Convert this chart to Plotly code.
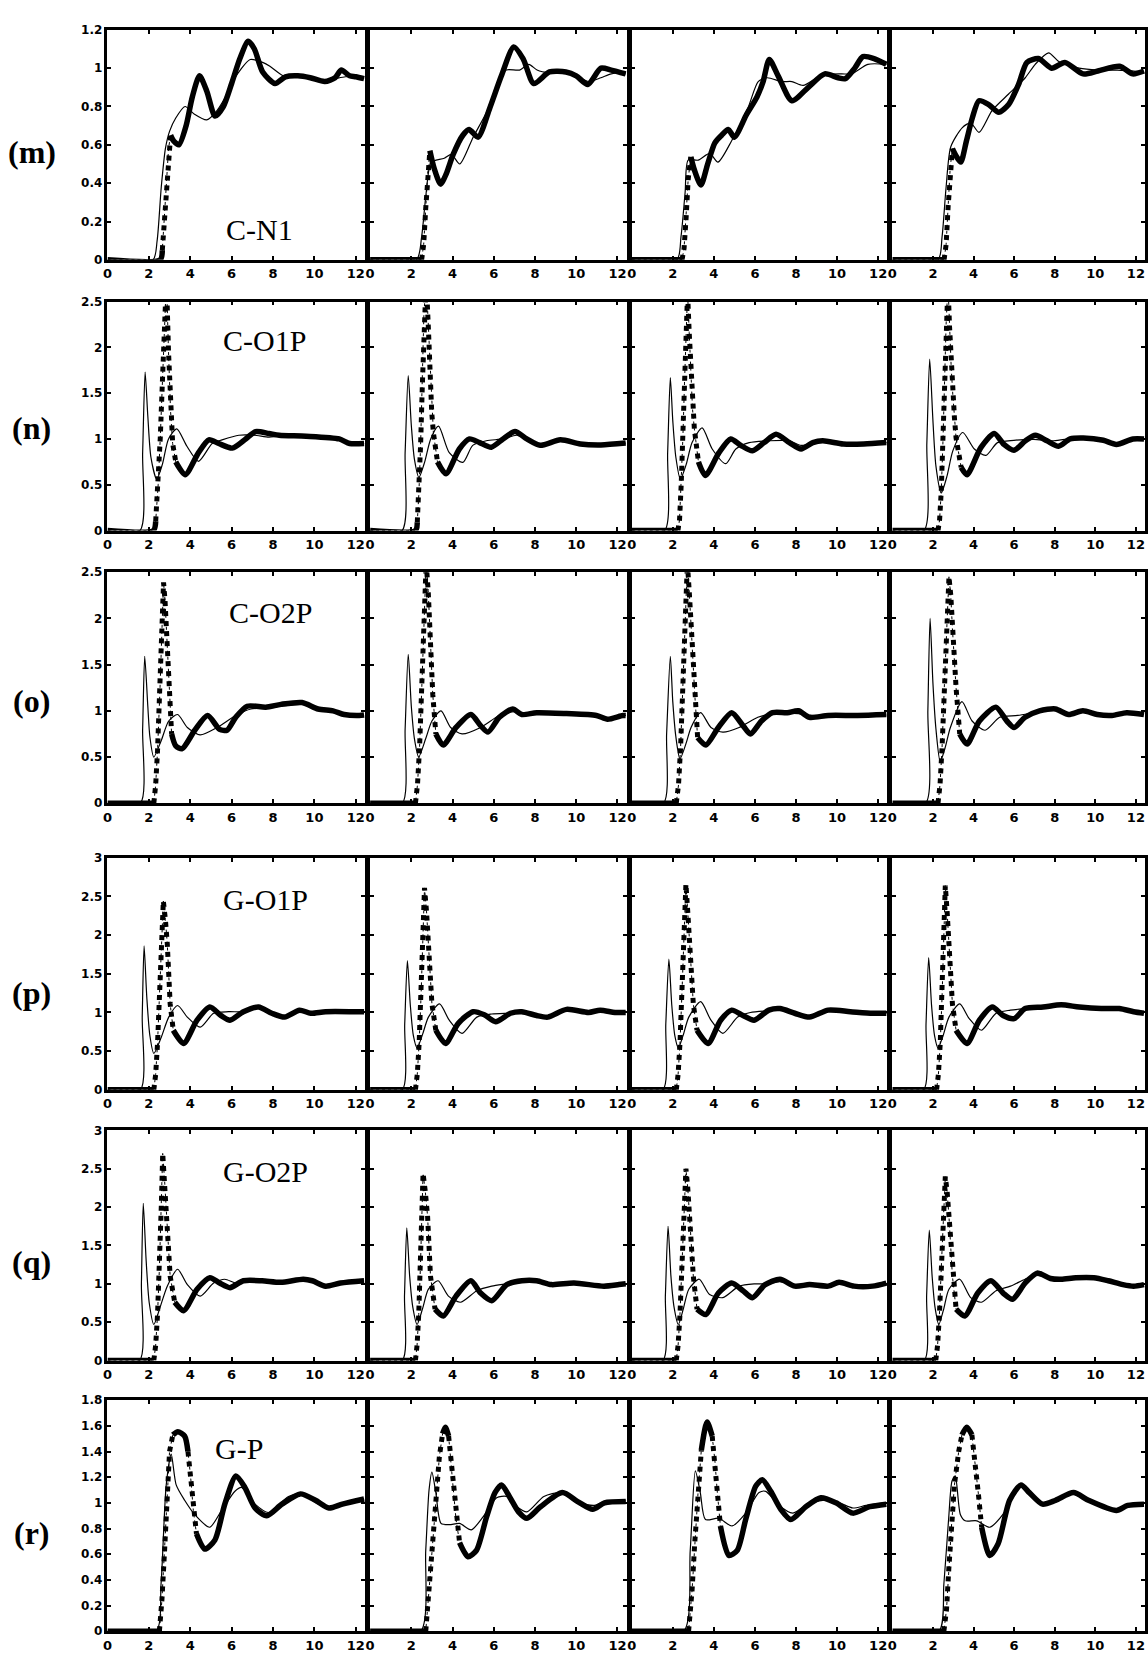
import plotly.graph_objects as go

# ---------------------------------------------------------------- data
# r (Angstrom) and g(r) readings for every panel; "a" = thin curve, "b" = bold curve
X_TICKS = [0, 2, 4, 6, 8, 10, 12]
X_TEXT = ["0", "2", "4", "6", "8", "10", "12"]
X_MAX = 12.45

ROW_TAGS = ["(m)", "(n)", "(o)", "(p)", "(q)", "(r)"]
PAIR_NAMES = ["C-N1", "C-O1P", "C-O2P", "G-O1P", "G-O2P", "G-P"]
Y_MAX = [1.2, 2.5, 2.5, 3.0, 3.0, 1.8]

y_ticks_m = [0, 0.2, 0.4, 0.6, 0.8, 1.0, 1.2]
y_text_m = ["0", "0.2", "0.4", "0.6", "0.8", "1", "1.2"]
y_ticks_no = [0, 0.5, 1.0, 1.5, 2.0, 2.5]
y_text_no = ["0", "0.5", "1", "1.5", "2", "2.5"]
y_ticks_pq = [0, 0.5, 1.0, 1.5, 2.0, 2.5, 3.0]
y_text_pq = ["0", "0.5", "1", "1.5", "2", "2.5", "3"]
y_ticks_r = [0, 0.2, 0.4, 0.6, 0.8, 1.0, 1.2, 1.4, 1.6, 1.8]
y_text_r = ["0", "0.2", "0.4", "0.6", "0.8", "1", "1.2", "1.4", "1.6", "1.8"]

# --- row m : C-N1
m1_a_r = [0, 2.2, 2.4, 2.6, 2.8, 3.0, 3.3, 3.75, 4.2, 4.8, 5.3, 5.8, 6.1, 6.9, 7.5, 7.85, 8.5, 9.0, 10.0, 10.5, 11.0, 11.5, 12.0, 12.4]
m1_a_g = [0, 0, 0.1, 0.38, 0.58, 0.67, 0.74, 0.8, 0.76, 0.73, 0.78, 0.87, 0.94, 1.045, 1.03, 1.01, 0.96, 0.955, 0.95, 0.935, 0.945, 0.955, 0.955, 0.945]
m1_b_r = [0, 2.55, 2.65, 2.75, 2.85, 2.95, 3.05, 3.2, 3.45, 3.8, 4.1, 4.45, 4.8, 5.2, 5.6, 6.0, 6.4, 6.8, 7.1, 7.5, 8.1, 8.6, 9.2, 9.8, 10.5, 11.0, 11.3, 11.7, 12.0, 12.4]
m1_b_g = [0, 0, 0.05, 0.2, 0.4, 0.58, 0.65, 0.62, 0.6, 0.7, 0.85, 0.96, 0.88, 0.75, 0.8, 0.92, 1.05, 1.14, 1.1, 0.98, 0.92, 0.955, 0.96, 0.95, 0.93, 0.95, 0.99, 0.96, 0.955, 0.945]

m2_a_r = [0, 2.25, 2.5, 2.7, 2.95, 3.2, 3.6, 3.95, 4.35, 5.0, 5.65, 6.3, 6.6, 7.25, 7.7, 8.1, 8.7, 9.5, 10.0, 10.6, 11.2, 11.7, 12.4]
m2_a_g = [0, 0, 0.12, 0.33, 0.51, 0.52, 0.53, 0.55, 0.5, 0.64, 0.77, 0.94, 0.99, 0.99, 1.02, 0.99, 0.975, 0.975, 0.96, 0.93, 0.95, 0.97, 0.98]
m2_b_r = [0, 2.5, 2.6, 2.7, 2.8, 2.9, 3.1, 3.42, 3.7, 4.03, 4.5, 4.8, 5.24, 5.8, 6.37, 6.97, 7.42, 7.94, 8.7, 9.5, 10.0, 10.56, 11.2, 11.7, 12.4]
m2_b_g = [0, 0, 0.08, 0.27, 0.46, 0.57, 0.48, 0.395, 0.45, 0.55, 0.65, 0.68, 0.64, 0.79, 0.96, 1.11, 1.05, 0.92, 0.98, 0.98, 0.96, 0.915, 1.0, 0.99, 0.97]

m3_a_r = [0, 2.2, 2.4, 2.6, 2.75, 3.24, 3.8, 4.2, 4.86, 5.67, 6.16, 6.6, 7.3, 7.8, 8.35, 9.2, 10.2, 10.7, 11.5, 12.4]
m3_a_g = [0, 0, 0.12, 0.35, 0.52, 0.52, 0.555, 0.51, 0.62, 0.795, 0.93, 0.95, 0.93, 0.93, 0.91, 0.96, 0.97, 0.97, 1.02, 1.02]
m3_b_r = [0, 2.45, 2.55, 2.65, 2.75, 2.88, 3.05, 3.37, 3.7, 4.05, 4.38, 4.7, 5.0, 5.6, 6.1, 6.4, 6.7, 7.13, 7.8, 8.6, 9.4, 10.05, 10.4, 10.86, 11.26, 11.8, 12.4]
m3_b_g = [0, 0, 0.06, 0.22, 0.42, 0.537, 0.47, 0.39, 0.5, 0.61, 0.65, 0.68, 0.64, 0.76, 0.85, 0.93, 1.045, 0.96, 0.83, 0.9, 0.97, 0.95, 0.945, 1.0, 1.06, 1.05, 1.02]

m4_a_r = [0, 2.25, 2.45, 2.65, 2.88, 3.45, 3.86, 4.27, 4.92, 5.73, 6.55, 7.04, 7.7, 8.2, 9.2, 10.13, 11.1, 11.9, 12.4]
m4_a_g = [0, 0, 0.12, 0.38, 0.59, 0.69, 0.715, 0.665, 0.78, 0.865, 0.95, 1.02, 1.08, 1.035, 1.0, 0.99, 0.99, 0.985, 0.98]
m4_b_r = [0, 2.55, 2.65, 2.75, 2.85, 2.96, 3.15, 3.37, 3.65, 3.94, 4.27, 4.75, 5.24, 5.73, 6.22, 6.63, 7.2, 7.85, 8.5, 9.4, 10.13, 11.2, 11.84, 12.4]
m4_b_g = [0, 0, 0.08, 0.28, 0.48, 0.58, 0.54, 0.51, 0.62, 0.74, 0.83, 0.81, 0.77, 0.81, 0.915, 1.03, 1.05, 1.0, 1.03, 0.97, 0.985, 1.01, 0.97, 0.985]

# --- row n : C-O1P
n1_a_r = [0, 1.57, 1.7, 1.82, 1.95, 2.1, 2.38, 2.65, 2.95, 3.35, 3.84, 4.4, 5.06, 5.54, 6.35, 7.1, 7.8, 8.3, 9.6, 11.2, 11.7, 12.4]
n1_a_g = [0, 0, 0.85, 1.73, 1.25, 0.8, 0.56, 0.72, 1.0, 1.11, 0.92, 0.755, 0.95, 0.99, 1.04, 1.04, 1.02, 1.03, 1.02, 0.99, 0.95, 0.95]
n1_b_r = [0, 2.22, 2.33, 2.45, 2.55, 2.65, 2.75, 2.85, 2.95, 3.05, 3.15, 3.3, 3.76, 4.4, 4.9, 5.38, 6.03, 6.68, 7.16, 7.8, 8.3, 9.6, 11.2, 11.7, 12.4]
n1_b_g = [0, 0, 0.1, 0.5, 1.0, 1.6, 2.25, 2.75, 1.95, 1.3, 0.95, 0.75, 0.61, 0.85, 0.99, 0.95, 0.9, 1.0, 1.08, 1.06, 1.04, 1.03, 1.0, 0.95, 0.95]

n2_a_r = [0, 1.55, 1.7, 1.85, 2.0, 2.15, 2.37, 2.65, 2.94, 3.32, 3.84, 4.5, 4.98, 5.64, 6.45, 7.1, 7.6, 8.25, 9.23, 10.2, 11.2, 12.4]
n2_a_g = [0, 0, 0.85, 1.69, 1.15, 0.78, 0.58, 0.75, 1.0, 1.14, 0.85, 0.745, 0.93, 0.98, 1.0, 1.04, 1.0, 0.95, 0.99, 0.95, 0.94, 0.955]
n2_b_r = [0, 2.2, 2.29, 2.37, 2.45, 2.53, 2.61, 2.72, 2.83, 2.89, 2.99, 3.07, 3.27, 3.68, 4.33, 4.82, 5.31, 5.88, 6.45, 7.03, 7.6, 8.25, 9.23, 10.2, 11.2, 12.4]
n2_b_g = [0, 0, 0.09, 0.42, 0.93, 1.55, 2.35, 2.75, 2.2, 1.8, 1.29, 1.07, 0.75, 0.62, 0.89, 1.0, 0.96, 0.91, 1.0, 1.08, 1.0, 0.93, 0.99, 0.945, 0.935, 0.955]

n3_a_r = [0, 1.6, 1.75, 1.88, 2.0, 2.15, 2.37, 2.65, 2.94, 3.43, 3.92, 4.58, 5.07, 5.72, 6.7, 7.68, 8.25, 9.3, 10.3, 11.3, 12.4]
n3_a_g = [0, 0, 0.85, 1.67, 1.2, 0.8, 0.56, 0.72, 0.96, 1.12, 0.89, 0.73, 0.89, 0.96, 0.98, 0.98, 0.93, 0.98, 0.95, 0.945, 0.96]
n3_b_r = [0, 2.25, 2.33, 2.41, 2.49, 2.57, 2.65, 2.72, 2.8, 2.88, 2.96, 3.05, 3.25, 3.59, 4.25, 4.82, 5.31, 5.88, 6.45, 7.03, 7.68, 8.25, 8.82, 9.3, 10.3, 11.3, 12.4]
n3_b_g = [0, 0, 0.12, 0.5, 1.0, 1.6, 2.3, 2.6, 2.16, 1.76, 1.33, 1.11, 0.75, 0.6, 0.85, 1.0, 0.93, 0.87, 0.96, 1.05, 0.96, 0.89, 0.96, 0.98, 0.945, 0.945, 0.96]

n4_a_r = [0, 1.56, 1.7, 1.84, 2.0, 2.15, 2.41, 2.7, 2.98, 3.47, 4.04, 4.61, 5.18, 5.99, 6.97, 7.95, 9.09, 10.4, 11.04, 11.86, 12.4]
n4_a_g = [0, 0, 0.95, 1.87, 1.2, 0.7, 0.41, 0.6, 0.87, 1.07, 0.89, 0.82, 0.96, 0.985, 0.996, 0.98, 1.01, 0.985, 0.95, 0.995, 1.0]
n4_b_r = [0, 2.25, 2.33, 2.41, 2.49, 2.57, 2.65, 2.74, 2.82, 2.9, 2.98, 3.06, 3.14, 3.39, 3.68, 4.36, 5.02, 5.5, 5.99, 6.56, 7.05, 7.62, 8.19, 8.76, 9.41, 10.4, 11.04, 11.86, 12.4]
n4_b_g = [0, 0, 0.12, 0.43, 0.94, 1.7, 2.25, 2.7, 2.22, 1.78, 1.48, 1.23, 1.01, 0.69, 0.61, 0.905, 1.06, 0.94, 0.876, 0.98, 1.04, 0.98, 0.92, 1.0, 1.01, 0.985, 0.94, 1.0, 1.0]

# --- row o : C-O2P
o1_a_r = [0, 1.59, 1.7, 1.8, 1.95, 2.05, 2.24, 2.6, 2.96, 3.39, 3.86, 4.48, 5.3, 6.2, 6.93, 7.65, 8.38, 9.4, 10.18, 10.9, 11.44, 12.17, 12.4]
o1_a_g = [0, 0, 0.8, 1.59, 1.05, 0.72, 0.5, 0.68, 0.89, 0.96, 0.82, 0.74, 0.82, 0.95, 1.02, 1.03, 1.05, 1.07, 1.02, 1.0, 0.96, 0.95, 0.95]
o1_b_r = [0, 2.24, 2.33, 2.42, 2.53, 2.64, 2.71, 2.78, 2.85, 2.96, 3.1, 3.3, 3.61, 4.22, 4.84, 5.42, 5.78, 6.2, 6.75, 7.65, 8.38, 9.4, 10.18, 10.9, 11.44, 12.17, 12.4]
o1_b_g = [0, 0, 0.2, 0.57, 1.18, 1.89, 2.39, 2.2, 1.89, 1.25, 0.75, 0.62, 0.59, 0.79, 0.95, 0.8, 0.79, 0.93, 1.05, 1.04, 1.07, 1.09, 1.02, 1.0, 0.96, 0.95, 0.955]

o2_a_r = [0, 1.56, 1.7, 1.85, 2.0, 2.15, 2.36, 2.7, 3.0, 3.44, 3.91, 4.46, 5.36, 6.27, 7.0, 7.36, 8.08, 9.53, 10.98, 11.52, 12.25, 12.4]
o2_a_g = [0, 0, 0.8, 1.61, 1.05, 0.7, 0.5, 0.7, 0.89, 1.0, 0.82, 0.75, 0.82, 0.95, 0.99, 0.97, 0.975, 0.965, 0.95, 0.92, 0.945, 0.95]
o2_b_r = [0, 2.2, 2.3, 2.4, 2.5, 2.6, 2.72, 2.82, 2.9, 3.04, 3.19, 3.55, 4.17, 4.89, 5.36, 5.72, 6.27, 6.92, 7.36, 8.08, 9.53, 10.98, 11.52, 12.25, 12.4]
o2_b_g = [0, 0, 0.2, 0.6, 1.2, 1.9, 2.6, 2.3, 1.89, 1.18, 0.75, 0.63, 0.82, 0.96, 0.84, 0.77, 0.93, 1.02, 0.96, 0.98, 0.97, 0.95, 0.91, 0.95, 0.95]

o3_a_r = [0, 1.55, 1.7, 1.88, 2.0, 2.15, 2.35, 2.65, 2.89, 3.36, 3.86, 4.44, 5.23, 6.14, 6.86, 7.58, 8.12, 8.66, 9.57, 11.0, 12.4]
o3_a_g = [0, 0, 0.75, 1.59, 1.1, 0.72, 0.48, 0.65, 0.82, 0.98, 0.82, 0.77, 0.82, 0.93, 0.97, 0.975, 0.97, 0.95, 0.95, 0.945, 0.955]
o3_b_r = [0, 2.17, 2.28, 2.38, 2.48, 2.58, 2.71, 2.8, 2.89, 3.07, 3.21, 3.61, 4.22, 4.87, 5.42, 5.78, 6.32, 6.86, 7.58, 8.12, 8.66, 9.57, 11.0, 12.4]
o3_b_g = [0, 0, 0.2, 0.6, 1.2, 1.9, 2.6, 2.3, 1.89, 1.18, 0.71, 0.63, 0.82, 0.98, 0.84, 0.75, 0.89, 0.98, 0.98, 1.0, 0.93, 0.95, 0.95, 0.96]

o4_a_r = [0, 1.64, 1.75, 1.86, 2.0, 2.15, 2.36, 2.6, 2.86, 3.43, 3.93, 4.57, 5.29, 6.18, 7.25, 8.04, 8.68, 9.39, 10.1, 10.82, 11.54, 12.4]
o4_a_g = [0, 0, 1.0, 2.0, 1.3, 0.8, 0.45, 0.6, 0.82, 1.1, 0.89, 0.79, 0.93, 0.95, 0.99, 1.01, 0.96, 0.99, 0.96, 0.95, 0.975, 0.96]
o4_b_r = [0, 2.25, 2.35, 2.45, 2.55, 2.65, 2.79, 2.88, 2.96, 3.14, 3.32, 3.68, 4.29, 5.1, 5.64, 6.0, 6.54, 7.25, 8.04, 8.68, 9.39, 10.1, 10.82, 11.54, 12.4]
o4_b_g = [0, 0, 0.2, 0.6, 1.2, 1.8, 2.45, 2.25, 1.89, 1.25, 0.75, 0.64, 0.89, 1.04, 0.89, 0.82, 0.93, 1.0, 1.02, 0.96, 1.0, 0.96, 0.95, 0.98, 0.96]

# --- row p : G-O1P
p1_a_r = [0, 1.59, 1.68, 1.77, 1.9, 2.05, 2.24, 2.6, 2.96, 3.39, 3.86, 4.48, 5.13, 5.85, 6.57, 7.3, 7.94, 8.56, 9.28, 9.82, 10.54, 12.0, 12.4]
p1_a_g = [0, 0, 0.95, 1.86, 1.2, 0.7, 0.47, 0.68, 0.94, 1.09, 0.94, 0.81, 0.99, 1.01, 1.01, 1.06, 1.0, 0.96, 1.02, 0.99, 1.01, 1.01, 1.01]
p1_b_r = [0, 2.24, 2.33, 2.42, 2.51, 2.6, 2.7, 2.8, 2.89, 3.03, 3.18, 3.68, 4.33, 4.95, 5.49, 5.92, 6.57, 7.3, 7.94, 8.56, 9.28, 9.82, 10.54, 12.0, 12.4]
p1_b_g = [0, 0, 0.2, 0.6, 1.2, 1.85, 2.44, 2.2, 1.89, 1.11, 0.77, 0.6, 0.9, 1.07, 0.96, 0.9, 1.01, 1.07, 0.99, 0.94, 1.03, 0.99, 1.01, 1.01, 1.01]

p2_a_r = [0, 1.56, 1.68, 1.81, 1.95, 2.1, 2.28, 2.55, 2.83, 3.37, 3.84, 4.46, 5.18, 5.9, 6.81, 7.36, 8.08, 8.62, 9.53, 10.6, 11.16, 11.88, 12.4]
p2_a_g = [0, 0, 0.85, 1.67, 1.1, 0.7, 0.54, 0.72, 0.94, 1.11, 0.9, 0.73, 0.94, 0.98, 0.99, 1.0, 0.965, 0.95, 1.03, 1.0, 1.02, 1.0, 1.0]
p2_b_r = [0, 2.2, 2.29, 2.38, 2.47, 2.56, 2.64, 2.74, 2.83, 3.0, 3.19, 3.66, 4.28, 5.0, 5.54, 6.09, 6.81, 7.36, 8.08, 8.62, 9.53, 10.6, 11.16, 11.88, 12.4]
p2_b_g = [0, 0, 0.2, 0.6, 1.2, 1.9, 2.61, 2.3, 1.89, 1.11, 0.77, 0.6, 0.86, 1.01, 0.97, 0.88, 0.99, 1.01, 0.96, 0.94, 1.04, 1.0, 1.03, 1.0, 1.0]

p3_a_r = [0, 1.52, 1.66, 1.81, 1.95, 2.1, 2.27, 2.5, 2.78, 3.36, 3.86, 4.44, 5.16, 5.78, 6.68, 7.22, 7.94, 8.66, 9.57, 10.65, 11.73, 12.4]
p3_a_g = [0, 0, 0.85, 1.69, 1.1, 0.7, 0.54, 0.7, 0.94, 1.14, 0.9, 0.73, 0.94, 1.0, 1.02, 1.03, 0.99, 0.95, 1.02, 1.01, 0.99, 0.99]
p3_b_r = [0, 2.17, 2.26, 2.35, 2.44, 2.53, 2.64, 2.73, 2.82, 3.0, 3.18, 3.72, 4.33, 4.87, 5.42, 5.96, 6.68, 7.22, 7.94, 8.66, 9.57, 10.65, 11.73, 12.4]
p3_b_g = [0, 0, 0.2, 0.6, 1.2, 1.9, 2.66, 2.3, 1.89, 1.11, 0.77, 0.6, 0.9, 1.03, 0.96, 0.9, 1.03, 1.05, 0.99, 0.94, 1.03, 1.01, 0.99, 0.99]

p4_a_r = [0, 1.54, 1.66, 1.79, 1.93, 2.08, 2.25, 2.5, 2.79, 3.32, 3.79, 4.39, 5.11, 5.82, 6.54, 7.43, 8.32, 9.21, 10.29, 11.18, 11.89, 12.4]
p4_a_g = [0, 0, 0.85, 1.71, 1.1, 0.7, 0.54, 0.7, 0.94, 1.11, 0.92, 0.77, 0.99, 1.03, 1.05, 1.07, 1.1, 1.07, 1.05, 1.05, 1.01, 0.99]
p4_b_r = [0, 2.18, 2.27, 2.36, 2.45, 2.53, 2.61, 2.7, 2.79, 2.96, 3.14, 3.68, 4.29, 4.93, 5.46, 6.0, 6.54, 7.43, 8.32, 9.21, 10.29, 11.18, 11.89, 12.4]
p4_b_g = [0, 0, 0.2, 0.6, 1.2, 1.9, 2.64, 2.3, 1.89, 1.11, 0.77, 0.6, 0.9, 1.07, 0.96, 0.92, 1.05, 1.07, 1.1, 1.07, 1.05, 1.05, 1.01, 0.99]

# --- row q : G-O2P
q1_a_r = [0, 1.55, 1.64, 1.73, 1.87, 2.02, 2.24, 2.55, 2.89, 3.39, 3.86, 4.48, 5.13, 5.67, 6.2, 6.57, 7.47, 8.38, 9.46, 9.9, 10.54, 11.26, 12.4]
q1_a_g = [0, 0, 1.0, 2.05, 1.3, 0.75, 0.47, 0.7, 0.97, 1.19, 0.99, 0.84, 1.01, 1.06, 1.01, 1.03, 1.03, 1.02, 1.05, 1.04, 0.97, 1.01, 1.04]
q1_b_r = [0, 2.24, 2.33, 2.42, 2.51, 2.6, 2.67, 2.76, 2.85, 3.03, 3.25, 3.68, 4.33, 4.95, 5.42, 5.92, 6.57, 7.47, 8.38, 9.46, 9.9, 10.54, 11.26, 12.4]
q1_b_g = [0, 0, 0.2, 0.6, 1.2, 2.0, 2.7, 2.35, 1.88, 1.1, 0.76, 0.65, 0.93, 1.08, 1.01, 0.95, 1.04, 1.04, 1.02, 1.06, 1.04, 0.97, 1.01, 1.04]

q2_a_r = [0, 1.56, 1.67, 1.78, 1.92, 2.07, 2.28, 2.55, 2.83, 3.3, 3.8, 4.38, 5.18, 5.9, 6.63, 7.36, 8.08, 8.8, 9.89, 11.34, 12.07, 12.4]
q2_a_g = [0, 0, 0.85, 1.73, 1.1, 0.7, 0.47, 0.68, 0.93, 1.04, 0.84, 0.76, 0.91, 0.97, 1.0, 1.03, 1.03, 0.99, 1.0, 0.97, 0.99, 1.0]
q2_b_r = [0, 2.2, 2.28, 2.36, 2.44, 2.5, 2.57, 2.68, 2.79, 2.93, 3.15, 3.55, 4.17, 4.89, 5.36, 5.9, 6.63, 7.36, 8.08, 8.8, 9.89, 11.34, 12.07, 12.4]
q2_b_g = [0, 0, 0.2, 0.6, 1.2, 1.8, 2.44, 2.2, 1.88, 1.1, 0.67, 0.58, 0.84, 1.04, 0.88, 0.78, 0.99, 1.04, 1.04, 0.99, 1.01, 0.97, 0.99, 1.0]

q3_a_r = [0, 1.52, 1.64, 1.77, 1.91, 2.06, 2.27, 2.5, 2.78, 3.29, 3.79, 4.44, 5.23, 5.96, 6.68, 7.22, 7.94, 8.66, 9.57, 10.1, 10.83, 11.73, 12.4]
q3_a_g = [0, 0, 0.85, 1.75, 1.1, 0.7, 0.47, 0.66, 0.93, 1.06, 0.86, 0.82, 0.97, 1.0, 1.0, 1.03, 0.98, 0.99, 0.97, 1.0, 0.97, 0.97, 1.0]
q3_b_r = [0, 2.17, 2.26, 2.35, 2.44, 2.53, 2.64, 2.73, 2.82, 3.0, 3.18, 3.61, 4.22, 4.87, 5.42, 5.88, 6.5, 7.22, 7.94, 8.66, 9.57, 10.1, 10.83, 11.73, 12.4]
q3_b_g = [0, 0, 0.2, 0.6, 1.2, 1.85, 2.5, 2.25, 1.88, 1.1, 0.67, 0.6, 0.88, 1.01, 0.91, 0.82, 0.99, 1.06, 0.97, 0.99, 0.97, 1.02, 0.97, 0.97, 1.01]

q4_a_r = [0, 1.57, 1.69, 1.82, 1.96, 2.1, 2.29, 2.52, 2.79, 3.32, 3.86, 4.39, 5.11, 5.82, 6.54, 7.07, 7.61, 8.32, 9.04, 9.93, 10.64, 11.36, 11.89, 12.4]
q4_a_g = [0, 0, 0.85, 1.7, 1.1, 0.7, 0.47, 0.66, 0.93, 1.06, 0.82, 0.76, 0.91, 0.97, 1.06, 1.11, 1.09, 1.06, 1.08, 1.08, 1.04, 0.99, 0.97, 0.99]
q4_b_r = [0, 2.14, 2.23, 2.32, 2.41, 2.5, 2.61, 2.7, 2.79, 2.96, 3.14, 3.57, 4.21, 4.86, 5.46, 5.93, 6.54, 7.14, 7.79, 8.32, 9.04, 9.93, 10.64, 11.36, 11.89, 12.4]
q4_b_g = [0, 0, 0.2, 0.6, 1.2, 1.8, 2.4, 2.2, 1.88, 1.1, 0.67, 0.58, 0.88, 1.04, 0.88, 0.8, 1.01, 1.14, 1.07, 1.06, 1.08, 1.08, 1.04, 0.99, 0.97, 0.99]

# --- row r : G-P
r1_a_r = [0, 2.35, 2.59, 2.84, 3.08, 3.32, 3.73, 4.21, 4.94, 5.51, 6.16, 6.48, 7.13, 7.78, 8.75, 9.4, 10.21, 10.7, 11.35, 12.4]
r1_a_g = [0, 0, 0.37, 1.14, 1.38, 1.14, 1.02, 0.91, 0.81, 0.94, 1.09, 1.12, 0.99, 0.925, 1.05, 1.07, 0.99, 0.97, 1.0, 1.03]
r1_b_r = [0, 2.51, 2.63, 2.76, 2.88, 3.0, 3.16, 3.4, 3.73, 3.89, 4.02, 4.15, 4.3, 4.7, 5.19, 5.67, 6.21, 6.64, 7.13, 7.7, 8.43, 9.32, 10.05, 10.7, 11.35, 12.4]
r1_b_g = [0, 0, 0.24, 0.63, 1.09, 1.4, 1.53, 1.555, 1.52, 1.4, 1.2, 0.94, 0.76, 0.64, 0.71, 0.99, 1.21, 1.12, 0.96, 0.9, 0.99, 1.07, 1.02, 0.96, 0.99, 1.03]

r2_a_r = [0, 2.45, 2.7, 2.86, 3.0, 3.19, 3.44, 3.85, 4.34, 4.91, 5.48, 6.14, 6.63, 7.12, 7.61, 8.43, 9.25, 10.07, 10.88, 11.37, 12.4]
r2_a_g = [0, 0, 0.63, 1.1, 1.24, 1.08, 0.84, 0.83, 0.84, 0.79, 0.89, 1.04, 1.05, 0.97, 0.93, 1.05, 1.08, 1.01, 0.98, 1.01, 1.02]
r2_b_r = [0, 2.7, 2.86, 3.03, 3.19, 3.36, 3.52, 3.65, 3.81, 3.93, 4.04, 4.17, 4.34, 4.75, 5.16, 5.65, 6.06, 6.38, 6.79, 7.2, 7.61, 8.27, 9.33, 10.07, 10.8, 11.37, 12.4]
r2_b_g = [0, 0, 0.32, 0.69, 1.05, 1.36, 1.54, 1.59, 1.52, 1.33, 1.1, 0.87, 0.69, 0.58, 0.63, 0.89, 1.08, 1.14, 1.04, 0.93, 0.88, 0.97, 1.08, 1.01, 0.95, 1.0, 1.01]

r3_a_r = [0, 2.53, 2.85, 3.1, 3.34, 3.59, 4.24, 4.89, 5.55, 6.2, 6.53, 7.18, 7.83, 8.48, 9.3, 10.11, 10.77, 11.42, 12.4]
r3_a_g = [0, 0, 0.63, 1.25, 1.08, 0.87, 0.88, 0.82, 0.92, 1.08, 1.09, 0.98, 0.92, 0.98, 1.02, 1.0, 0.96, 0.98, 1.0]
r3_b_r = [0, 2.77, 2.94, 3.07, 3.23, 3.39, 3.67, 3.92, 4.05, 4.16, 4.32, 4.73, 5.14, 5.55, 6.04, 6.36, 6.77, 7.26, 7.75, 8.48, 9.21, 9.95, 10.77, 11.59, 12.4]
r3_b_g = [0, 0, 0.32, 0.69, 1.08, 1.41, 1.63, 1.52, 1.33, 1.1, 0.82, 0.59, 0.63, 0.87, 1.13, 1.18, 1.09, 0.95, 0.87, 0.97, 1.04, 1.0, 0.92, 0.97, 0.99]

r4_a_r = [0, 2.3, 2.54, 2.78, 2.94, 3.1, 3.35, 3.59, 4.16, 4.8, 5.45, 6.1, 6.42, 6.91, 7.4, 7.88, 8.85, 9.66, 10.63, 11.28, 12.4]
r4_a_g = [0, 0, 0.37, 0.89, 1.17, 1.21, 0.91, 0.86, 0.86, 0.81, 0.91, 1.09, 1.14, 1.07, 0.99, 1.02, 1.07, 1.02, 0.95, 0.96, 0.99]
r4_b_r = [0, 2.54, 2.67, 2.78, 2.91, 3.06, 3.27, 3.43, 3.67, 3.92, 4.08, 4.24, 4.4, 4.8, 5.21, 5.78, 6.34, 6.75, 7.4, 8.04, 8.93, 9.66, 11.04, 11.6, 12.4]
r4_b_g = [0, 0, 0.17, 0.48, 0.81, 1.14, 1.4, 1.53, 1.59, 1.53, 1.32, 1.07, 0.81, 0.59, 0.68, 1.02, 1.14, 1.08, 0.99, 1.02, 1.08, 1.02, 0.94, 0.98, 0.99]

# ------------------------------------------------------------ tables
Y_TICKVALS = [y_ticks_m, y_ticks_no, y_ticks_no, y_ticks_pq, y_ticks_pq, y_ticks_r]
Y_TICKTEXT = [y_text_m, y_text_no, y_text_no, y_text_pq, y_text_pq, y_text_r]

SERIES = [
    [(m1_a_r, m1_a_g, m1_b_r, m1_b_g), (m2_a_r, m2_a_g, m2_b_r, m2_b_g),
     (m3_a_r, m3_a_g, m3_b_r, m3_b_g), (m4_a_r, m4_a_g, m4_b_r, m4_b_g)],
    [(n1_a_r, n1_a_g, n1_b_r, n1_b_g), (n2_a_r, n2_a_g, n2_b_r, n2_b_g),
     (n3_a_r, n3_a_g, n3_b_r, n3_b_g), (n4_a_r, n4_a_g, n4_b_r, n4_b_g)],
    [(o1_a_r, o1_a_g, o1_b_r, o1_b_g), (o2_a_r, o2_a_g, o2_b_r, o2_b_g),
     (o3_a_r, o3_a_g, o3_b_r, o3_b_g), (o4_a_r, o4_a_g, o4_b_r, o4_b_g)],
    [(p1_a_r, p1_a_g, p1_b_r, p1_b_g), (p2_a_r, p2_a_g, p2_b_r, p2_b_g),
     (p3_a_r, p3_a_g, p3_b_r, p3_b_g), (p4_a_r, p4_a_g, p4_b_r, p4_b_g)],
    [(q1_a_r, q1_a_g, q1_b_r, q1_b_g), (q2_a_r, q2_a_g, q2_b_r, q2_b_g),
     (q3_a_r, q3_a_g, q3_b_r, q3_b_g), (q4_a_r, q4_a_g, q4_b_r, q4_b_g)],
    [(r1_a_r, r1_a_g, r1_b_r, r1_b_g), (r2_a_r, r2_a_g, r2_b_r, r2_b_g),
     (r3_a_r, r3_a_g, r3_b_r, r3_b_g), (r4_a_r, r4_a_g, r4_b_r, r4_b_g)],
]

# ------------------------------------------------------------ layout geometry (pixels)
W, H = 1148, 1664
COL_EDGES = [(103, 362), (367, 625), (630, 887), (892, 1146)]
ROW_EDGES = [(23, 255), (297, 528), (570, 803), (858, 1092), (1133, 1365), (1405, 1638)]
ROW_TAG_Y = [146, 425, 700, 994, 1266, 1539]
ROW_TAG_X = 27
PAIR_POS = [(7.35, 0.16), (7.6, 2.07), (7.9, 2.06), (7.65, 2.46), (7.65, 2.46), (6.35, 1.42)]

TICK_FONT_X = dict(family="DejaVu Sans", size=13, color="black", weight="bold")
TICK_FONT_Y = dict(family="DejaVu Sans", size=12, color="black", weight="bold")


def runs_by_steepness(xs, ys, px_x, px_y, ratio=5.0):
    """Split a curve into consecutive runs of steep and shallow segments (screen space)."""
    runs = []
    flag = None
    for i in range(len(xs) - 1):
        dx = abs(xs[i + 1] - xs[i]) * px_x
        dy = abs(ys[i + 1] - ys[i]) * px_y
        steep = dy > ratio * max(dx, 1e-9)
        if steep != flag:
            runs.append([steep, [xs[i]], [ys[i]]])
            flag = steep
        runs[-1][1].append(xs[i + 1])
        runs[-1][2].append(ys[i + 1])
    return runs


fig = go.Figure()
layout = {}
annotations = []

idx = 0
for ri, row in enumerate(SERIES):
    top, bot = ROW_EDGES[ri]
    ymax = Y_MAX[ri]
    for ci, (a_r, a_g, b_r, b_g) in enumerate(row):
        idx += 1
        left, right = COL_EDGES[ci]
        xname = "x" if idx == 1 else f"x{idx}"
        yname = "y" if idx == 1 else f"y{idx}"
        xkey = "xaxis" if idx == 1 else f"xaxis{idx}"
        ykey = "yaxis" if idx == 1 else f"yaxis{idx}"

        px_x = (right - left) / X_MAX
        px_y = (bot - top) / ymax

        # thin curve
        fig.add_trace(go.Scatter(
            x=a_r, y=a_g, xaxis=xname, yaxis=yname, mode="lines",
            line=dict(color="black", width=1.2, shape="spline", smoothing=0.7),
            showlegend=False, hoverinfo="skip"))

        # bold curve: faint dotted connector underneath
        fig.add_trace(go.Scatter(
            x=b_r, y=b_g, xaxis=xname, yaxis=yname, mode="lines",
            line=dict(color="black", width=1, dash="dot"),
            showlegend=False, hoverinfo="skip"))
        # bold curve: solid where shallow, chain of square dots where steep
        for steep, rx, ry in runs_by_steepness(b_r, b_g, px_x, px_y):
            if steep:
                line = dict(color="black", width=5, dash="dot")
            else:
                line = dict(color="black", width=5.5, shape="spline", smoothing=0.7)
            fig.add_trace(go.Scatter(
                x=rx, y=ry, xaxis=xname, yaxis=yname, mode="lines",
                line=line, showlegend=False, hoverinfo="skip"))

        layout[xkey] = dict(
            domain=[left / W, right / W], anchor=yname, range=[0, X_MAX],
            tickmode="array", tickvals=X_TICKS, ticktext=X_TEXT,
            ticks="inside", ticklen=4, tickwidth=1.5, tickcolor="black",
            showline=True, linewidth=2.5, linecolor="black", mirror="ticks",
            showgrid=False, zeroline=False, tickfont=TICK_FONT_X)
        layout[ykey] = dict(
            domain=[1 - bot / H, 1 - top / H], anchor=xname, range=[0, ymax],
            tickmode="array", tickvals=Y_TICKVALS[ri], ticktext=Y_TICKTEXT[ri],
            ticks="inside", ticklen=4, tickwidth=1.5, tickcolor="black",
            showline=True, linewidth=2.5, linecolor="black", mirror="ticks",
            showgrid=False, zeroline=False, tickfont=TICK_FONT_Y,
            showticklabels=(ci == 0))

        if ci == 0:
            px_, py_ = PAIR_POS[ri]
            annotations.append(dict(
                x=px_, y=py_, xref=xname, yref=yname, text=PAIR_NAMES[ri],
                showarrow=False, xanchor="center", yanchor="middle",
                font=dict(family="Liberation Serif", size=30, color="black")))

    annotations.append(dict(
        x=ROW_TAG_X / W, y=1 - ROW_TAG_Y[ri] / H, xref="paper", yref="paper",
        text=ROW_TAGS[ri], showarrow=False, xanchor="center", yanchor="middle",
        font=dict(family="Liberation Serif", size=32, color="black", weight="bold")))

fig.update_layout(
    width=W, height=H, autosize=False,
    margin=dict(l=0, r=0, t=0, b=0),
    paper_bgcolor="white", plot_bgcolor="white",
    showlegend=False, annotations=annotations,
    **layout)

fig.write_html("out.html")
